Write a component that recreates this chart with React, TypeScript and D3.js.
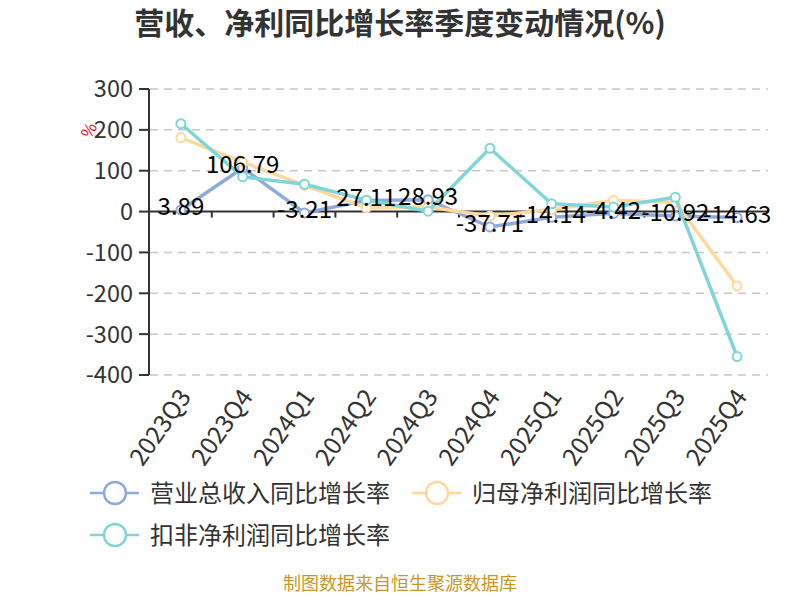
import React from "react";
import * as d3 from "d3";

const categories = ["2023Q3", "2023Q4", "2024Q1", "2024Q2", "2024Q3", "2024Q4", "2025Q1", "2025Q2", "2025Q3", "2025Q4"];
const revenueGrowth = [3.89, 106.79, -3.21, 27.11, 28.93, -37.71, -14.14, -4.42, -10.92, -14.63];
const netProfitGrowth = [181, 121, 64, 9, 11, -11, 5, 27, 23, -182];
const deductedProfitGrowth = [215, 85, 67, 28, 1, 155, 19, 11, 35, -355];
const yTicks = [300, 200, 100, 0, -100, -200, -300, -400];

const seriesNames = ["营业总收入同比增长率", "归母净利润同比增长率", "扣非净利润同比增长率"];
const seriesColors = ["#8eaadc", "#ffd89b", "#80d5d9"];
const seriesData = [revenueGrowth, netProfitGrowth, deductedProfitGrowth];

const FONT = "'Noto Sans CJK SC', 'Noto Sans', sans-serif";

export default function App() {
  const width = 800;
  const height = 600;

  const x = d3.scaleBand<string>().domain(categories).range([150, 768]);
  const y = d3.scaleLinear().domain([-400, 300]).range([375, 89]);
  const cx = (c: string) => (x(c) as number) + x.bandwidth() / 2;

  const line = d3.line<number>()
    .x((_, i) => cx(categories[i]))
    .y((d) => y(d));

  const [x0, x1] = x.range();

  return (
    <svg width={width} height={height} style={{ display: "block", margin: "-8px" }} fontFamily={FONT}>
      <rect width={width} height={height} fill="#fff" />
      <text x={400} y={34} textAnchor="middle" fontSize={30} fontWeight="bold" fill="#333">
        营收、净利同比增长率季度变动情况(%)
      </text>

      {/* grid */}
      {yTicks.filter((t) => t !== 0).map((t) => (
        <line key={t} x1={x0} x2={x1} y1={y(t)} y2={y(t)} stroke="#c8c8c8" strokeWidth={1.5} strokeDasharray="8,6" />
      ))}

      {/* y axis */}
      <line x1={149} x2={149} y1={y(300)} y2={y(-400)} stroke="#333" strokeWidth={2} />
      {yTicks.map((t) => (
        <g key={t}>
          <line x1={139} x2={149} y1={y(t)} y2={y(t)} stroke="#333" strokeWidth={2} />
          <text x={133} y={y(t)} dy="0.36em" textAnchor="end" fontSize={23.5} fill="#333">{t}</text>
        </g>
      ))}
      <text transform={`translate(94,133) rotate(-60)`} textAnchor="middle" fontSize={16} fill="#e00">%</text>

      {/* x axis on zero */}
      <line x1={149} x2={x1} y1={y(0)} y2={y(0)} stroke="#333" strokeWidth={2} />
      {categories.slice(1).map((c) => (
        <line key={c} x1={x(c) as number} x2={x(c) as number} y1={y(0)} y2={y(0) + 6} stroke="#333" strokeWidth={2} />
      ))}
      {categories.map((c) => (
        <text key={c} transform={`translate(${cx(c) - 3},${y(-400) + 12}) rotate(-55)`} textAnchor="end" dy="0.7em" fontSize={24.5} fill="#333">
          {c}
        </text>
      ))}

      {/* series */}
      {seriesData.map((data, si) => (
        <g key={si}>
          <path d={line(data) as string} fill="none" stroke={seriesColors[si]} strokeWidth={3.5} strokeLinejoin="round" />
          {data.map((d, i) => (
            <circle key={i} cx={cx(categories[i])} cy={y(d)} r={4.5} fill="#fff" stroke={seriesColors[si]} strokeWidth={2} />
          ))}
        </g>
      ))}

      {/* labels for revenue */}
      {revenueGrowth.map((d, i) => (
        <text key={i} x={cx(categories[i])} y={y(d) - 3} dy="0.35em" textAnchor="middle" fontSize={24} fill="#000">
          {d}
        </text>
      ))}

      {/* legend */}
      {seriesNames.map((name, si) => {
        const lx = si === 1 ? 412 : 90;
        const ly = si === 2 ? 535 : 493;
        return (
          <g key={name}>
            <line x1={lx} x2={lx + 49} y1={ly} y2={ly} stroke={seriesColors[si]} strokeWidth={2.5} />
            <circle cx={lx + 25} cy={ly} r={11} fill="#fff" stroke={seriesColors[si]} strokeWidth={2.5} />
            <text x={lx + 60} y={ly} dy="0.36em" fontSize={24} fill="#333">{name}</text>
          </g>
        );
      })}

      <text x={400} y={590} textAnchor="middle" fontSize={18} fill="#c9962c">制图数据来自恒生聚源数据库</text>
    </svg>
  );
}
